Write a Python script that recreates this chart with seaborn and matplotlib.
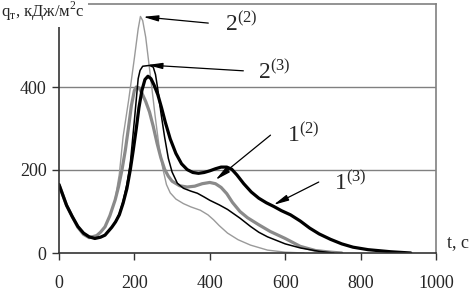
import numpy as np
import pandas as pd
import matplotlib
matplotlib.use('Agg')
import matplotlib.pyplot as plt
import seaborn as sns

# curve 1^(2): thick gray
t_1_2 = [0, 10, 20, 35, 50, 65, 80, 100, 110, 122, 135, 149, 158, 167, 176, 184, 192, 200, 205,
         212, 220, 230, 240, 250, 260, 270, 280, 290, 300, 320, 340, 360, 380, 400, 415, 430, 445,
         460, 480, 500, 530, 560, 600, 640, 680, 720, 750]
q_1_2 = [165, 140, 115, 88, 62, 45, 37, 42, 50, 63, 90, 128, 160, 200, 248, 300, 355, 392, 400,
         398, 385, 365, 340, 305, 265, 230, 202, 185, 173, 162, 159, 161, 167, 170, 167, 158, 143,
         122, 100, 85, 68, 52, 35, 16, 6, 2, 0]

# curve 1^(3): thick black
t_1_3 = [0, 10, 20, 35, 50, 65, 80, 95, 110, 122, 140, 150, 160, 170, 180, 189, 197, 205, 212, 220,
         228, 236, 244, 252, 262, 272, 282, 295, 310, 325, 340, 355, 370, 385, 400, 415, 430, 445,
         458, 472, 490, 510, 530, 550, 570, 590, 614, 640, 665, 690, 720, 750, 780, 820, 880, 933]
q_1_3 = [165, 140, 115, 88, 64, 48, 39, 35, 38, 43, 62, 75, 92, 120, 155, 200, 248, 300, 350, 392,
         418, 426, 420, 405, 382, 350, 315, 275, 240, 215, 201, 194, 192, 194, 198, 203, 207, 207,
         202, 188, 167, 147, 132, 121, 112, 102, 92, 77, 60, 46, 33, 22, 14, 8, 3, 0]

# curve 2^(2): thin gray
t_2_2 = [0, 10, 20, 35, 50, 65, 80, 100, 110, 122, 135, 149, 160, 170, 185, 200, 210, 216, 222,
         230, 238, 246, 255, 265, 275, 285, 295, 310, 330, 350, 375, 395, 410, 425, 447, 475, 508,
         553, 600, 650]
q_2_2 = [165, 140, 115, 88, 62, 45, 37, 42, 50, 63, 90, 130, 190, 280, 370, 470, 540, 570, 560,
         520, 460, 400, 330, 260, 205, 165, 145, 130, 119, 111, 103, 92, 80, 66, 48, 32, 19,
         7, 2, 0]

# curve 2^(3): thin black
t_2_3 = [0, 10, 20, 35, 50, 65, 80, 95, 110, 122, 140, 150, 160, 170, 180, 189, 200, 210, 215,
         222, 240, 250, 256, 262, 270, 280, 290, 300, 314, 330, 350, 367, 385, 400, 425, 447, 480,
         508, 530, 553, 600, 641, 690, 729]
q_2_3 = [165, 140, 115, 88, 64, 48, 39, 35, 38, 43, 62, 76, 95, 125, 165, 215, 320, 420, 440,
         450, 452, 448, 430, 395, 340, 280, 228, 195, 168, 156, 149, 144, 135, 127, 116, 105, 84,
         64, 50, 39, 22, 12, 4, 0]

x_ticks = [0, 200, 400, 600, 800, 1000]
y_ticks = [0, 200, 400]

sns.set_style('white')
plt.rcParams['font.family'] = ['Liberation Serif', 'DejaVu Serif']
plt.rcParams['mathtext.fontset'] = 'custom'
plt.rcParams['mathtext.rm'] = 'Liberation Serif'
plt.rcParams['lines.solid_joinstyle'] = 'round'

fig = plt.figure(figsize=(4.73, 2.91), dpi=100)
ax = fig.add_axes([59 / 473, 1 - 253 / 291, 377 / 473, 249 / 291])

gray_thick = '#8a8a8a'
gray_thin = '#9a9a9a'
sns.lineplot(x=t_2_2, y=q_2_2, ax=ax, color=gray_thin, linewidth=1.0)
sns.lineplot(x=t_1_2, y=q_1_2, ax=ax, color=gray_thick, linewidth=2.3)
sns.lineplot(x=t_2_3, y=q_2_3, ax=ax, color='black', linewidth=1.1)
sns.lineplot(x=t_1_3, y=q_1_3, ax=ax, color='black', linewidth=2.3)

ax.set_xlim(0, 1000)
ax.set_ylim(0, 600)
ax.set_xticks(x_ticks)
ax.set_yticks(y_ticks)
ax.tick_params(axis='both', labelsize=13, direction='out', length=5, width=1,
               color='#333333', left=True, bottom=True)
ax.tick_params(axis='x', pad=11)
ax.tick_params(axis='y', pad=4)
ax.set_xlabel('')
ax.set_ylabel('')
ax.grid(False)
for v in y_ticks[1:]:
    ax.axhline(v, color='#808080', lw=1, zorder=0)
for s in ['left', 'bottom']:
    ax.spines[s].set_color('#333333')
    ax.spines[s].set_linewidth(1.2)
for s in ['top', 'right']:
    ax.spines[s].set_color('#808080')
    ax.spines[s].set_linewidth(1.2)

arrow = dict(arrowstyle='-|>,head_width=0.18,head_length=0.9', color='black', lw=0.9,
             shrinkA=0, shrinkB=0)
labels = [
    (r'$\mathregular{2^{(2)}}$', (223, 569), (396, 554), (441, 552)),
    (r'$\mathregular{2^{(3)}}$', (234, 453), (489, 439), (529, 436)),
    (r'$\mathregular{1^{(2)}}$', (415, 176), (561, 284), (605, 284)),
    (r'$\mathregular{1^{(3)}}$', (569, 116), (689, 171), (730, 167)),
]
for txt, tip, start, pos in labels:
    ax.annotate('', xy=tip, xytext=start, arrowprops=arrow, annotation_clip=False)
    ax.text(pos[0], pos[1], txt, fontsize=17, ha='left', va='center', clip_on=False)

ax.text(1030, 26, 't, c', fontsize=13, ha='left', va='center', clip_on=False)

# white patch behind the y-axis title
fig.patches.append(plt.Rectangle((0, 1 - 27 / 291), 88 / 473, 27 / 291, transform=fig.transFigure,
                                 facecolor='white', edgecolor='none', zorder=5))
fig.text(0.002, 1 - 11 / 291, r'q$_{\mathregular{т}}$, кДж/м$^{\mathregular{2}}$с', fontsize=12,
         ha='left', va='center', zorder=6)

fig.savefig('out.png', dpi=100)
